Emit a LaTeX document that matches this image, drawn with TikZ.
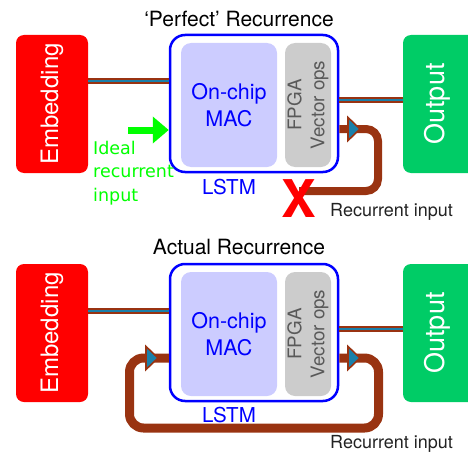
\documentclass[tikz,border=0pt]{standalone}
\usepackage{fontspec}
\setmainfont{TeX Gyre Heros}
\newfontfamily\idealfont{DejaVu Sans}
\usetikzlibrary{arrows.meta}

\definecolor{embred}{RGB}{255,0,0}
\definecolor{outgreen}{RGB}{0,204,102}
\definecolor{lstmblue}{RGB}{0,0,255}
\definecolor{macfill}{RGB}{204,204,255}
\definecolor{fpgafill}{RGB}{204,204,204}
\definecolor{wirebrown}{RGB}{153,51,17}
\definecolor{wireteal}{RGB}{26,128,170}
\definecolor{idealgreen}{RGB}{0,255,0}
\definecolor{labelgray}{RGB}{34,34,34}

\tikzset{
  blockbox/.style={rectangle, rounded corners=8pt, inner sep=0pt, text=white,
    minimum height=138pt},
  lstmbox/.style={rectangle, rounded corners=15pt, draw=lstmblue, line width=2.5pt,
    minimum width=168pt, minimum height=137pt, inner sep=0pt},
  macbox/.style={rectangle, rounded corners=10pt, fill=macfill, inner sep=0pt,
    minimum width=96pt, minimum height=124pt, text=lstmblue,
    font=\fontsize{21.5}{27}\selectfont, align=center},
  fpgabox/.style={rectangle, rounded corners=10pt, fill=fpgafill, inner sep=0pt,
    minimum width=46pt, minimum height=124pt},
  fpgatext/.style={rotate=90, text=black!65, font=\fontsize{18.8}{23}\selectfont,
    align=center, inner sep=0pt},
  wire/.style={draw=wirebrown, line width=2pt, double=wireteal, double distance=2pt},
  loopwire/.style={draw=wirebrown, line width=8pt, rounded corners=12pt},
  titletext/.style={font=\fontsize{21}{24}\selectfont, text=black},
  lstmlabel/.style={font=\fontsize{20.5}{24}\selectfont, text=lstmblue},
  recurtext/.style={font=\fontsize{18}{21}\selectfont, text=labelgray, anchor=west,
    inner sep=0pt},
  xmark/.style={text=embred, font=\bfseries\fontsize{52}{52}\selectfont, inner sep=0pt},
  tri/.pic={\draw[draw=wirebrown, fill=wireteal, line width=1.6pt, line join=miter]
    (-6,-11.5) -- (6,0) -- (-6,11.5) -- cycle;}
}

\begin{document}
\begin{tikzpicture}[x=1pt, y=-1pt]
  \useasboundingbox (0,0) rectangle (468,452);
  \clip (0,0) rectangle (468,452);

  % ---------------- upper panel ----------------
  \node[titletext] (t1) at (239,19) {`Perfect' Recurrence};

  \node[blockbox, fill=embred, minimum width=72pt] (emb1) at (52,104) {};
  \node[rotate=90, text=white, font=\fontsize{24}{24}\selectfont] at (emb1.center) {Embedding};
  \node[blockbox, fill=outgreen, minimum width=75pt] (out1) at (440.5,104) {};
  \node[rotate=90, text=white, font=\fontsize{27}{27}\selectfont] at (437,104) {Output};

  \node[macbox] (mac1) at (229,105) {On-chip\\MAC};
  \node[fpgabox] (fpga1) at (308,105) {};
  \node[fpgatext] at (fpga1.center) {FPGA\\Vector ops};
  \node[lstmbox] (lstm1) at (254,103.5) {};
  \node[lstmlabel] (l1) at (229,187) {LSTM};

  \coordinate (a1) at (0,81);
  \coordinate (b1) at (0,100);
  \draw[wire] (emb1.east |- a1) -- (lstm1.west |- a1);
  \draw[wire] (lstm1.east |- b1) -- (out1.west |- b1);

  % recurrent path that never gets back in
  \coordinate (xpos) at (299,199);
  \coordinate (r1a) at (378,129);
  \coordinate (r1b) at (378,191);
  \draw[loopwire] (lstm1.east |- r1a) -- (r1a) -- (r1b) -- (xpos |- r1b);
  \node[xmark] (x1) at (xpos) {X};
  \pic at (354,129) {tri};
  \node[recurtext] (ri1) at (330,212) {Recurrent input};

  % ideal input
  \coordinate (g1) at (128,130);
  \draw[idealgreen, line width=7pt, -{Triangle[length=16pt, width=26pt]}] (g1) -- (lstm1.west |- g1);
  \node[text=idealgreen, font=\idealfont\fontsize{17.5}{23.5}\selectfont, align=left,
        anchor=north west, inner sep=0pt] (ideal) at (93,141) {Ideal\\recurrent\\input};

  % ---------------- lower panel ----------------
  \node[titletext] (t2) at (239,247) {Actual Recurrence};

  \node[blockbox, fill=embred, minimum width=72pt] (emb2) at (52,333) {};
  \node[rotate=90, text=white, font=\fontsize{24}{24}\selectfont] at (emb2.center) {Embedding};
  \node[blockbox, fill=outgreen, minimum width=75pt] (out2) at (440.5,333) {};
  \node[rotate=90, text=white, font=\fontsize{27}{27}\selectfont] at (437,333) {Output};

  \node[macbox] (mac2) at (229,334) {On-chip\\MAC};
  \node[fpgabox] (fpga2) at (308,334) {};
  \node[fpgatext] at (fpga2.center) {FPGA\\Vector ops};
  \node[lstmbox] (lstm2) at (254,332.5) {};
  \node[lstmlabel] (l2) at (229,415) {LSTM};

  \coordinate (a2) at (0,311);
  \coordinate (b2) at (0,329);
  \draw[wire] (emb2.east |- a2) -- (lstm2.west |- a2);
  \draw[wire] (lstm2.east |- b2) -- (out2.west |- b2);

  % recurrent path feeding the LSTM again
  \coordinate (r2a) at (378.5,358);
  \coordinate (r2b) at (378.5,428);
  \coordinate (r2c) at (129.5,428);
  \coordinate (r2d) at (129.5,358);
  \draw[loopwire, line width=9pt, rounded corners=14pt]
    (lstm2.east |- r2a) -- (r2a) -- (r2b) -- (r2c) -- (r2d) -- (lstm2.west |- r2d);
  \pic at (354,358) {tri};
  \pic at (152,358) {tri};
  \node[recurtext] (ri2) at (330,444) {Recurrent input};
\end{tikzpicture}
\end{document}
